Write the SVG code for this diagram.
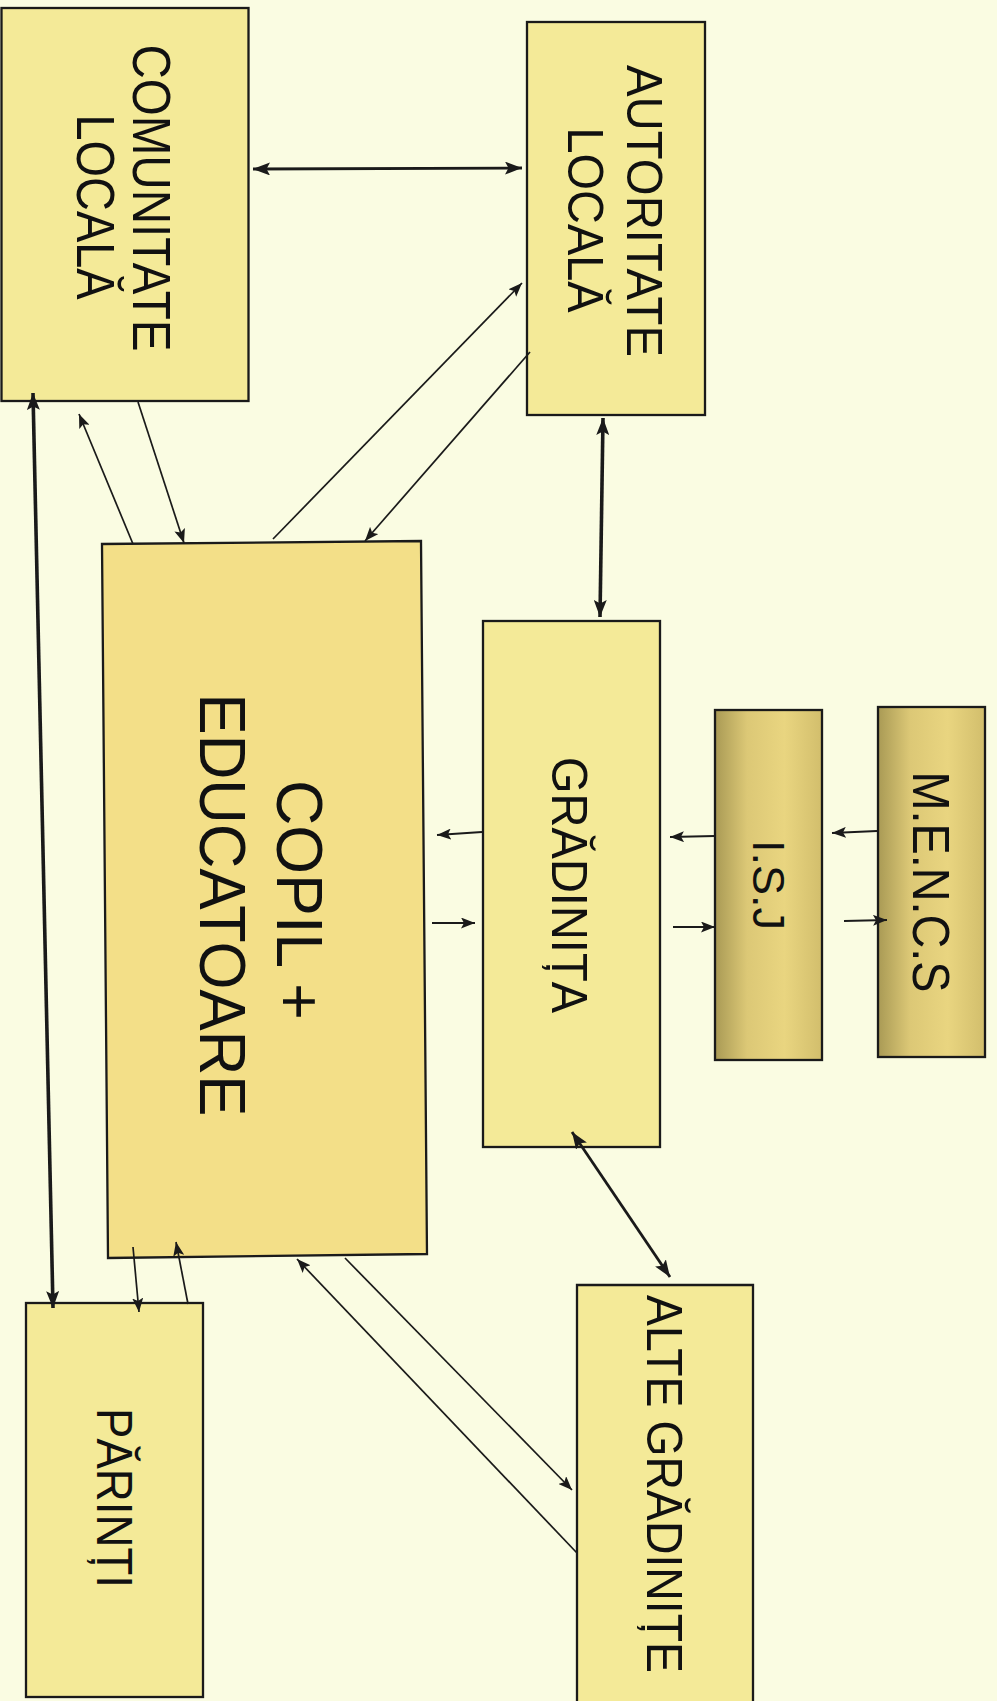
<svg xmlns="http://www.w3.org/2000/svg" width="997" height="1701" viewBox="0 0 997 1701">
<style>
.box{stroke:#1a1a1a;stroke-width:2.3}
.pale{fill:#f4ea98}
.main{fill:#f3df88}
.grad{fill:url(#olive)}
.edge{fill:none;stroke:#1a1a1a;stroke-width:2.3}
.lbl{font-family:"Liberation Sans",Arial,sans-serif;fill:#111;text-anchor:middle}
.con{fill:none;stroke:#1a1a1a}
.thin{stroke-width:1.7}
.mid{stroke-width:2.2}
.thick{stroke-width:2.8}
.heavy{stroke-width:3.6}
</style>
<defs>
<linearGradient id="olive" x1="0" y1="0" x2="1" y2="0">
<stop offset="0" stop-color="#a99a55"/>
<stop offset="0.3" stop-color="#dcc876"/>
<stop offset="0.65" stop-color="#e9d580"/>
<stop offset="1" stop-color="#d2be6c"/>
</linearGradient>
<marker id="aS" markerUnits="userSpaceOnUse" markerWidth="14" markerHeight="11" viewBox="0 0 14 11" refX="14" refY="5.5" orient="auto-start-reverse">
<path d="M0,0 L14,5.5 L0,11 L3,5.5 z" fill="#1a1a1a"/>
</marker>
<marker id="aL" markerUnits="userSpaceOnUse" markerWidth="17" markerHeight="13" viewBox="0 0 17 13" refX="17" refY="6.5" orient="auto-start-reverse">
<path d="M0,0 L17,6.5 L0,13 L3.5,6.5 z" fill="#1a1a1a"/>
</marker>
</defs>
<rect width="997" height="1701" fill="#fafce2"/>

<g id="comunitate">
<rect class="box pale" x="1.5" y="8" width="247" height="393"/>
<text class="lbl" font-size="53" transform="translate(133,198) rotate(90)" textLength="307" lengthAdjust="spacingAndGlyphs">COMUNITATE</text>
<text class="lbl" font-size="53" transform="translate(77,207) rotate(90)" textLength="185" lengthAdjust="spacingAndGlyphs">LOCALĂ</text>
</g>

<g id="autoritate">
<rect class="box pale" x="527" y="22" width="178" height="393"/>
<text class="lbl" font-size="50" transform="translate(627,211) rotate(90)" textLength="292" lengthAdjust="spacingAndGlyphs">AUTORITATE</text>
<text class="lbl" font-size="50" transform="translate(568,220) rotate(90)" textLength="185" lengthAdjust="spacingAndGlyphs">LOCALĂ</text>
</g>

<g id="copil">
<polygon class="box main" points="102,544 421,541 427,1254 108,1258"/>
<text class="lbl" font-size="64" transform="translate(277,900) rotate(90)" textLength="240" lengthAdjust="spacingAndGlyphs">COPIL +</text>
<text class="lbl" font-size="64" transform="translate(200,905) rotate(90)" textLength="423" lengthAdjust="spacingAndGlyphs">EDUCATOARE</text>
</g>

<g id="gradinita">
<rect class="box pale" x="483" y="621" width="177" height="526"/>
<text class="lbl" font-size="50" transform="translate(552,885) rotate(90)" textLength="256" lengthAdjust="spacingAndGlyphs">GRĂDINIȚA</text>
</g>

<g id="isj">
<rect class="box grad" x="715" y="710" width="107" height="350"/>
<text class="lbl" font-size="45" transform="translate(753,885) rotate(90)" textLength="90" lengthAdjust="spacingAndGlyphs">I.S.J</text>
</g>

<g id="mencs">
<rect class="box grad" x="878" y="707" width="107" height="350"/>
<text class="lbl" font-size="51" transform="translate(913,882) rotate(90)" textLength="221" lengthAdjust="spacingAndGlyphs">M.E.N.C.S</text>
</g>

<g id="alte">
<rect class="pale" x="577" y="1285" width="176" height="416"/>
<path class="edge" d="M577,1701 L577,1285 L753,1285 L753,1701"/>
<text class="lbl" font-size="50" transform="translate(647,1484) rotate(90)" textLength="378" lengthAdjust="spacingAndGlyphs">ALTE GRĂDINIȚE</text>
</g>

<g id="parinti">
<rect class="box pale" x="26" y="1303" width="177" height="394"/>
<text class="lbl" font-size="50" transform="translate(97,1498) rotate(90)" textLength="180" lengthAdjust="spacingAndGlyphs">PĂRINȚI</text>
</g>

<g id="connectors">
<path class="con thick" d="M253,169 L522,168" marker-start="url(#aL)" marker-end="url(#aL)"/>
<path class="con heavy" d="M33,393 L53,1308" marker-start="url(#aL)" marker-end="url(#aL)"/>
<path class="con thin" d="M133,544 L79,414" marker-end="url(#aS)"/>
<path class="con thin" d="M138,402 L184,543" marker-end="url(#aS)"/>
<path class="con thin" d="M273,539 L522,283" marker-end="url(#aS)"/>
<path class="con thin" d="M530,352 L365,541" marker-end="url(#aS)"/>
<path class="con heavy" d="M603,418 L600,617" marker-start="url(#aL)" marker-end="url(#aL)"/>
<path class="con mid" d="M482,832 L437,835" marker-end="url(#aS)"/>
<path class="con mid" d="M432,923 L475,923" marker-end="url(#aS)"/>
<path class="con mid" d="M715,836 L670,837" marker-end="url(#aS)"/>
<path class="con mid" d="M673,927 L715,927" marker-end="url(#aS)"/>
<path class="con mid" d="M877,831 L832,833" marker-end="url(#aS)"/>
<path class="con mid" d="M844,921 L887,920" marker-end="url(#aS)"/>
<path class="con thick" d="M572,1132 L670,1277" marker-start="url(#aL)" marker-end="url(#aL)"/>
<path class="con thin" d="M345,1258 L572,1490" marker-end="url(#aS)"/>
<path class="con thin" d="M577,1553 L297,1259" marker-end="url(#aS)"/>
<path class="con thin" d="M133,1247 L139,1312" marker-end="url(#aS)"/>
<path class="con thin" d="M188,1304 L176,1242" marker-end="url(#aS)"/>
</g>
</svg>
